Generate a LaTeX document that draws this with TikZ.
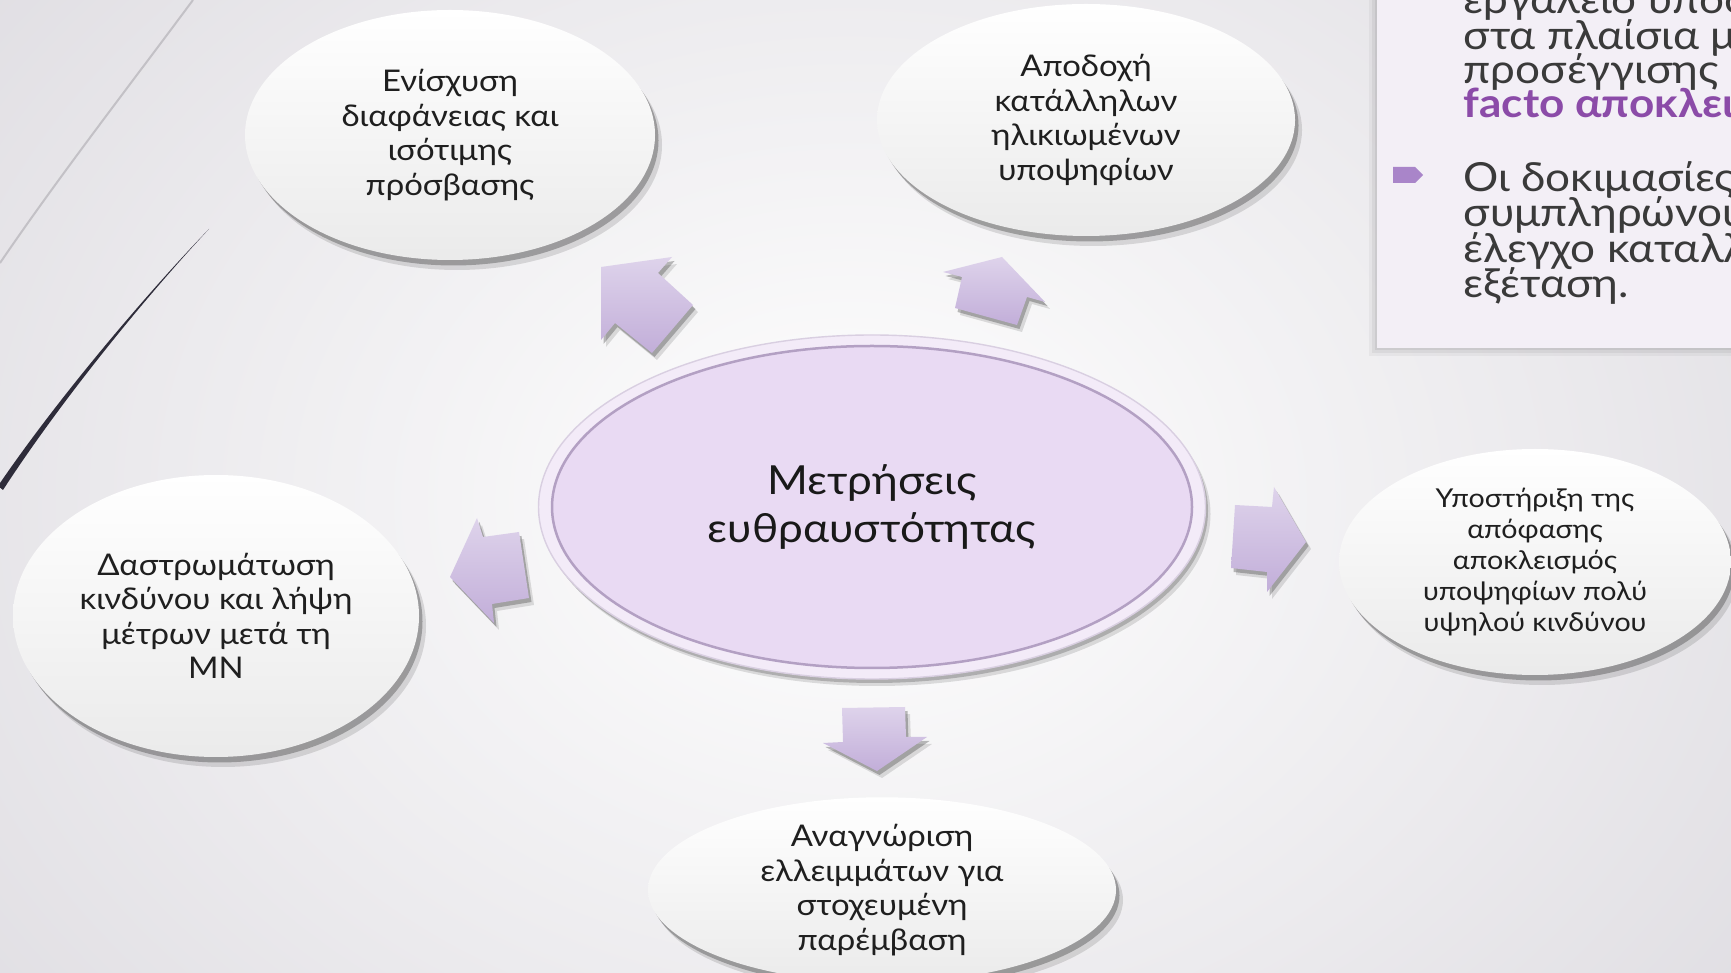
\documentclass[tikz,border=0pt]{standalone}
\usepackage{fontspec}
\setmainfont{Lato}[FakeStretch=1.1]
\usepackage{xcolor}
\usepackage{tikz}
\usetikzlibrary{shapes.geometric,shadows}

\definecolor{bgedge}{HTML}{DFDDE2}
\definecolor{bgline}{HTML}{C3C1C6}
\definecolor{darkline}{HTML}{2E2C3A}
\definecolor{hubfill}{HTML}{E9DAF3}
\definecolor{hubring}{HTML}{F3EBF8}
\definecolor{hubline}{HTML}{B3A0C3}
\definecolor{arrowtop}{HTML}{DED3EB}
\definecolor{arrowbot}{HTML}{C2AED9}
\definecolor{panelfill}{HTML}{F3EFF6}
\definecolor{paneltext}{HTML}{3A3A3A}
\definecolor{accent}{HTML}{8B4BA8}
\definecolor{bulletc}{HTML}{A985C9}

\begin{document}
\begin{tikzpicture}[x=0.1mm, y=-0.1mm,
  bubble/.style={ellipse, inner sep=0pt, top color=white, bottom color=black!8, text=black!88, align=center,
    font=\fontsize{8.5pt}{9.8pt}\selectfont,
    drop shadow={shadow xshift=0.7mm, shadow yshift=-1mm, opacity=0.12, fill=black},
    drop shadow={shadow xshift=0.35mm, shadow yshift=-0.55mm, opacity=0.35, fill=black!80}},
  blockarrow/.style={top color=arrowtop, bottom color=arrowbot,
    drop shadow={shadow xshift=0.5mm, shadow yshift=-0.7mm, opacity=0.12, fill=black},
    drop shadow={shadow xshift=0.25mm, shadow yshift=-0.4mm, opacity=0.35, fill=black!75}},
  paneltxt/.style={anchor=base west, inner sep=0pt, text=paneltext, font=\fontsize{11.4pt}{10.1pt}\selectfont}]
\useasboundingbox (0,0) rectangle (1731,973);
\clip (0,0) rectangle (1731,973);

% background
\shade[inner color=white, outer color=bgedge] (-300,-400) rectangle (2000,1400);
\draw[bgline, line width=0.2mm] (193,0) .. controls (130,85) and (60,175) .. (0,263);
\fill[darkline] (209,229) .. controls (150,290) and (60,395) .. (-2,486) -- (3,490) .. controls (64,396) and (151,291) .. (209,229) -- cycle;

% side panel
\fill[panelfill,
  drop shadow={shadow xshift=-0.8mm, shadow yshift=-0.8mm, opacity=0.04, fill=black},
  drop shadow={shadow xshift=-0.5mm, shadow yshift=-0.5mm, opacity=0.05, fill=black},
  drop shadow={shadow xshift=-0.25mm, shadow yshift=-0.25mm, opacity=0.06, fill=black}] (1377,-10) rectangle (1745,348);
\fill[bulletc] (1393,167) -- (1415,167) -- (1423,175) -- (1415,183) -- (1393,183) -- cycle;
\node[paneltxt] (pl1) at (1463,14) {εργαλείο υποσ};
\node[paneltxt] (pl2) at (1463,50) {στα πλαίσια μ};
\node[paneltxt] (pl3) at (1463,84) {προσέγγισης};
\node[paneltxt, text=accent, font=\fontsize{11.4pt}{10.1pt}\selectfont\bfseries] (pl4) at (1463,118) {facto αποκλει};
\node[paneltxt] (pl5) at (1463,192) {Οι δοκιμασίες};
\node[paneltxt] (pl6) at (1463,227) {συμπληρώνου};
\node[paneltxt] (pl7) at (1463,263) {έλεγχο καταλλ};
\node[paneltxt] (pl8) at (1463,298) {εξέταση.};

% block arrows
\path[blockarrow] (601,267) -- (672,257) -- (658,273) -- (693,305) -- (652,353) -- (615,323) -- (601,340) -- cycle;
\path[blockarrow] (1002,257) -- (1045,302) -- (1027,297) -- (1017,325) -- (955,308) -- (962,277) -- (943,272) -- cycle;
\path[blockarrow] (450,577) -- (477,518) -- (483,537) -- (519,532) -- (529,598) -- (492,604) -- (494,623) -- cycle;
\path[blockarrow] (1235,505) -- (1272,507) -- (1274,487) -- (1306,542) -- (1267,592) -- (1267,572) -- (1231,568) -- cycle;
\path[blockarrow] (842,708) -- (905,707) -- (906,737) -- (927,737) -- (877,771) -- (823,743) -- (843,742) -- cycle;

% centre
\node[ellipse, minimum width=66.7mm, minimum height=34.4mm, fill=hubring, draw=hubline!50,
  drop shadow={shadow xshift=0.5mm, shadow yshift=-0.7mm, opacity=0.12, fill=black},
  drop shadow={shadow xshift=0.25mm, shadow yshift=-0.4mm, opacity=0.3, fill=black!70}] (ring) at (872,507) {};
\node[ellipse, minimum width=64mm, minimum height=32.2mm, fill=hubfill, draw=hubline, line width=0.25mm,
  align=center, text=black!90, font=\fontsize{11.4pt}{13.7pt}\selectfont] (hub) at (872,507) {Μετρήσεις\\ευθραυστότητας};

% outer bubbles
\node[bubble, minimum width=41mm, minimum height=25mm] (access) at (450,135) {Ενίσχυση\\διαφάνειας και\\ισότιμης\\πρόσβασης};
\node[bubble, minimum width=41.8mm, minimum height=23.2mm] (accept) at (1086,120) {Αποδοχή\\κατάλληλων\\ηλικιωμένων\\υποψηφίων};
\node[bubble, minimum width=40.6mm, minimum height=28.2mm] (strata) at (216,616) {Δαστρωμάτωση\\κινδύνου και λήψη\\μέτρων μετά τη\\ΜΝ};
\node[bubble, minimum width=39.2mm, minimum height=22.6mm, font=\fontsize{7.4pt}{8.8pt}\selectfont] (support) at (1535,562) {Υποστήριξη της\\απόφασης\\αποκλεισμός\\υποψηφίων πολύ\\υψηλού κινδύνου};
\node[bubble, minimum width=46.8mm, minimum height=17.6mm] (gaps) at (882,890) {Αναγνώριση\\ελλειμμάτων για\\στοχευμένη\\παρέμβαση};
\end{tikzpicture}
\end{document}
